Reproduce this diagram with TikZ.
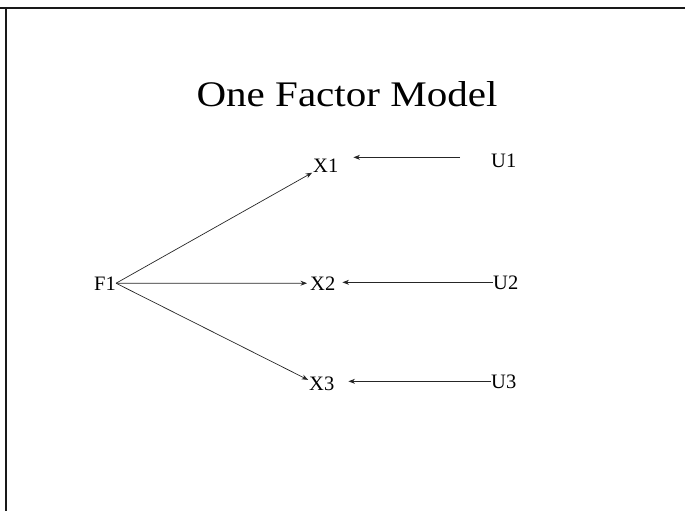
\documentclass[tikz,border=0pt]{standalone}
\usepackage{fontspec}
\setmainfont{Liberation Serif}
\usetikzlibrary{arrows.meta}
\tikzset{
  lbl/.style={inner sep=0pt, anchor=base west, font=\fontsize{20.5}{23}\selectfont},
  arr/.style={-{Stealth[length=6.5pt,width=5pt]}, line width=0.7pt, draw=black!85},
  frame/.style={line width=1.3pt, draw=black!90}
}
\begin{document}
\begin{tikzpicture}[x=1pt,y=-1pt]
\useasboundingbox (0,0) rectangle (685,511);
% frame
\coordinate (tl) at (0,8);
\coordinate (tr) at (685,8);
\coordinate (lt) at (6,8);
\coordinate (lb) at (6,511);
\draw[frame] (tl) -- (tr);
\draw[frame] (lt) -- (lb);
% title
\node[inner sep=0pt, anchor=base, font=\fontsize{36}{40}\selectfont] (title) at (347,106) {\scalebox{1.14}[1]{One Factor Model}};
% labels
\node[lbl] (F1) at (94,290) {F1};
\node[lbl] (X1) at (313,172) {X1};
\node[lbl] (X2) at (310,290) {X2};
\node[lbl] (X3) at (309,390) {X3};
\node[lbl] (U1) at (491,167) {U1};
\node[lbl] (U2) at (493,289) {U2};
\node[lbl] (U3) at (491,388) {U3};
% arrows
\draw[arr, shorten >=1pt] (F1.east) -- (X1.south west);
\draw[arr, shorten >=3pt] (F1.east) -- (X2.west);
\draw[arr, shorten >=1pt] (F1.east) -- ([yshift=3pt]X3.west);
\draw[arr, shorten <=31pt, shorten >=15pt] ([yshift=3pt]U1.west) -- ([yshift=3pt]X1.east |- U1.west);
\draw[arr, shorten >=7pt] (U2.west) -- (X2.east |- U2.west);
\draw[arr, shorten >=14pt] (U3.west) -- (X3.east |- U3.west);
\end{tikzpicture}
\end{document}
